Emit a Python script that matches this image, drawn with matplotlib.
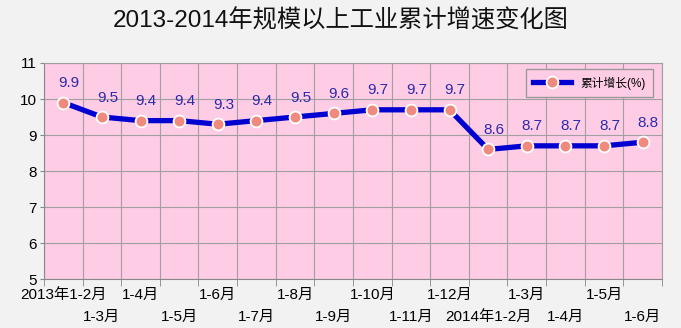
import matplotlib
matplotlib.use("Agg")
import matplotlib.pyplot as plt
import numpy as np

plt.rcParams["font.family"] = ["Liberation Sans", "Noto Sans CJK SC", "DejaVu Sans"]

months = [
    "2013年1-2月", "1-3月", "1-4月", "1-5月", "1-6月", "1-7月", "1-8月", "1-9月",
    "1-10月", "1-11月", "1-12月", "2014年1-2月", "1-3月", "1-4月", "1-5月", "1-6月",
]
growth = [9.9, 9.5, 9.4, 9.4, 9.3, 9.4, 9.5, 9.6, 9.7, 9.7, 9.7, 8.6, 8.7, 8.7, 8.7, 8.8]
y_ticks = [5, 6, 7, 8, 9, 10, 11]

fig = plt.figure(figsize=(6.81, 3.28), dpi=100, facecolor="#f2f2f2")
ax = fig.add_axes([0.0646, 0.149, 0.9074, 0.659])
ax.set_facecolor("#ffcce6")

x = np.arange(len(months))
ax.plot(x, growth, color="#0000d0", lw=3.8, marker="o", ms=8.5,
        mfc="#f08a7e", mec="white", mew=1.3, label="累计增长(%)", zorder=3)

for xi, v in zip(x, growth):
    ax.annotate(f"{v:.1f}", (xi, v), xytext=(4, 9), textcoords="offset points",
                ha="center", va="bottom", fontsize=11, color="#2a2aa8")

ax.set_xlim(-0.5, len(months) - 0.5)
ax.set_ylim(5, 11)
ax.set_yticks(y_ticks)
ax.tick_params(axis="y", labelsize=11, length=3, color="#888888", pad=2)

# labels in the middle of each category, staggered in two rows
ax.set_xticks(x)
ax.set_xticklabels(months, fontsize=11)
ax.tick_params(axis="x", which="major", length=0, pad=6)
for i, t in enumerate(ax.xaxis.get_major_ticks()):
    if i % 2:
        t.set_pad(22)
ax.set_xticks(np.arange(-0.5, len(months)), minor=True)
ax.tick_params(axis="x", which="minor", length=5, color="#888888")

ax.grid(True, which="minor", axis="x", color="#a0a0a0", lw=0.8)
ax.grid(True, which="major", axis="y", color="#a0a0a0", lw=0.8)
ax.set_axisbelow(True)
for s in ax.spines.values():
    s.set_color("#a0a0a0")
    s.set_linewidth(0.8)
ax.spines["left"].set_color("#888888")
ax.spines["bottom"].set_color("#888888")

leg = ax.legend(loc="upper right", fontsize=8.5, frameon=True, fancybox=False,
                borderpad=0.6, handlelength=3.2, bbox_to_anchor=(0.995, 0.998))
leg.get_frame().set_facecolor("#ffcce6")
leg.get_frame().set_edgecolor("#999999")
leg.get_frame().set_alpha(1)

fig.text(0.5, 0.935, "2013-2014年规模以上工业累计增速变化图", ha="center", va="center",
         fontsize=17.5, color="#111111")

fig.savefig("out.png", dpi=100, facecolor=fig.get_facecolor())
